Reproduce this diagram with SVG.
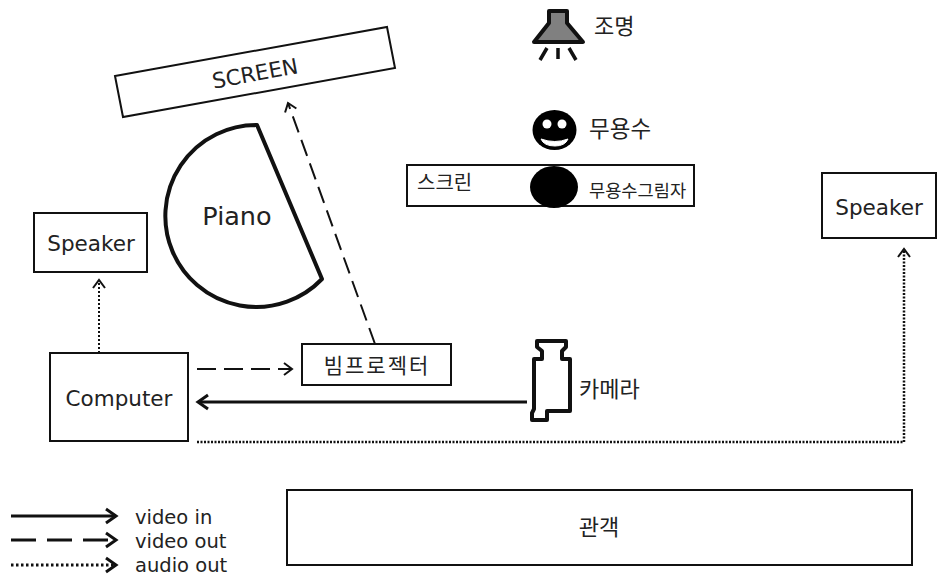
<svg xmlns="http://www.w3.org/2000/svg" width="937" height="579" viewBox="0 0 937 579">
<style>
text{font-family:"DejaVu Sans","Noto Sans CJK KR",sans-serif;fill:#222}
.k{font-family:"Noto Sans CJK KR",sans-serif}
.b{fill:#fff;stroke:#111;stroke-width:2}
.c{fill:none;stroke:#111}
</style>
<defs>
<marker id="a" markerUnits="userSpaceOnUse" markerWidth="16" markerHeight="16" refX="12" refY="8" orient="auto"><path d="M4,2 L12,8 L4,14" fill="none" stroke="#111" stroke-width="2"/></marker>
<marker id="aT" markerUnits="userSpaceOnUse" markerWidth="20" markerHeight="20" refX="15" refY="10" orient="auto"><path d="M5,3 L15,10 L5,17" fill="none" stroke="#111" stroke-width="3"/></marker>
</defs>
<rect width="937" height="579" fill="#fff"/>
<g id="connectors">
<path class="c" stroke-width="2" stroke-dasharray="17 8" d="M375,344 L288,103" marker-end="url(#a)"/>
<path class="c" stroke-width="2" stroke-dasharray="2 2" d="M99,353 V280" marker-end="url(#a)"/>
<path class="c" stroke-width="2" stroke-dasharray="19 8" d="M197,369 H292" marker-end="url(#a)"/>
<path class="c" stroke-width="3" d="M527,402 H198" marker-end="url(#aT)"/>
<path class="c" stroke-width="2.5" stroke-dasharray="2 1.500" d="M197,442 H904 V249" marker-end="url(#a)"/>
</g>
<g id="screen"><polygon class="b" points="115,76 387,27 395,68 123,117"/><text x="255" y="81" font-size="21.5" text-anchor="middle" transform="rotate(-10.5 255 73)">SCREEN</text></g>
<g id="piano"><path d="M257,125 L322,279 A91,91 0 1 1 257,125 Z" fill="#fff" stroke="#111" stroke-width="4" stroke-linejoin="round"/><text x="237" y="225" font-size="25.5" text-anchor="middle">Piano</text></g>
<g id="speaker-left"><rect class="b" x="34" y="213" width="113" height="59"/><text x="91" y="251" font-size="21.5" text-anchor="middle">Speaker</text></g>
<g id="speaker-right"><rect class="b" x="822" y="173" width="114" height="65"/><text x="879" y="215" font-size="21.5" text-anchor="middle">Speaker</text></g>
<g id="computer"><rect class="b" x="50" y="353" width="138" height="88"/><text x="119" y="406" font-size="21.5" text-anchor="middle">Computer</text></g>
<g id="projector"><rect class="b" x="302" y="344" width="149" height="41"/><text class="k" x="377" y="373" font-size="21" text-anchor="middle" letter-spacing="2">빔프로젝터</text></g>
<g id="camera"><path d="M537,341 H566 V347 L562,351 V359 H570 V411 H547 V420 H532 V413 L534,409 V359 H542 V351 L537,347 Z" fill="#fff" stroke="#111" stroke-width="4" stroke-linejoin="round"/><text class="k" x="579" y="397" font-size="22">카메라</text></g>
<g id="light"><path d="M549,11 H567 V23 L583,42 H534 L549,23 Z" fill="#808080" stroke="#111" stroke-width="4" stroke-linejoin="round"/><path d="M547,48 L540,60 M558,48 V59 M569,48 L576,60" fill="none" stroke="#111" stroke-width="3.5"/><text class="k" x="594" y="34" font-size="22">조명</text></g>
<g id="dancer"><ellipse cx="554.500" cy="130" rx="22" ry="20" fill="#000"/><circle cx="547" cy="124" r="4.500" fill="#fff"/><circle cx="562" cy="124" r="4.500" fill="#fff"/><path d="M541,139 Q555,144 568,139 Q565,146 555,146 Q544,146 541,139 Z" fill="#fff" stroke="#fff"/><text class="k" x="589" y="137" font-size="22.5">무용수</text></g>
<g id="stage-screen"><rect class="b" x="407" y="165" width="287" height="41"/><ellipse cx="554" cy="187" rx="24" ry="21" fill="#000"/><text class="k" x="417" y="190" font-size="20">스크린</text><text class="k" x="589" y="197" font-size="17.6">무용수그림자</text></g>
<g id="audience"><rect class="b" x="287" y="490" width="625" height="75"/><text class="k" x="599" y="535" font-size="22" text-anchor="middle">관객</text></g>
<g id="legend">
<path class="c" stroke-width="3" d="M11,516 H116" marker-end="url(#aT)"/>
<path class="c" stroke-width="3" stroke-dasharray="25 11" d="M11,540 H116" marker-end="url(#aT)"/>
<path class="c" stroke-width="3" stroke-dasharray="2.500 2.500" d="M11,565 H116" marker-end="url(#aT)"/>
<text x="135" y="524" font-size="19.5">video in</text>
<text x="135" y="548" font-size="19.5">video out</text>
<text x="135" y="572" font-size="19.5">audio out</text>
</g>
</svg>
